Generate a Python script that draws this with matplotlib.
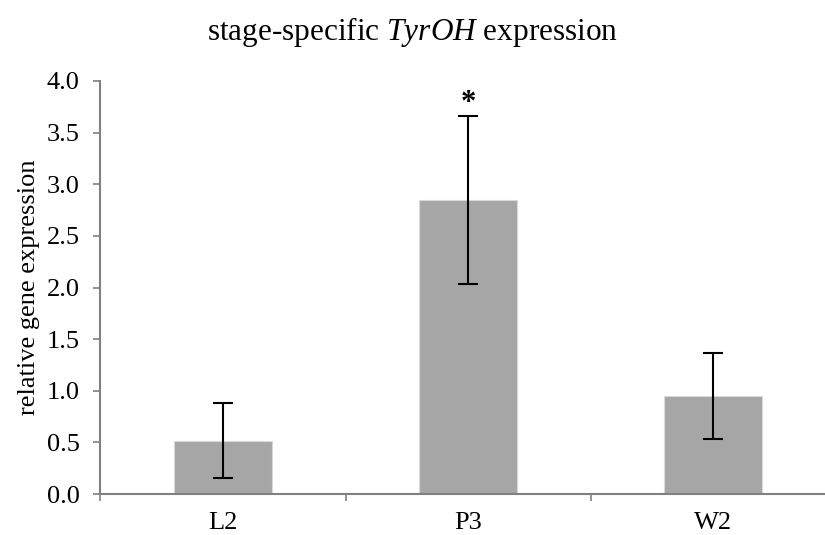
import matplotlib.pyplot as plt
import numpy as np

stages = ["L2", "P3", "W2"]
expression = [0.515, 2.845, 0.947]
sem = [0.362, 0.815, 0.418]
significant = [False, True, False]

plt.rcParams["font.family"] = ["Liberation Serif", "DejaVu Serif"]
plt.rcParams["mathtext.fontset"] = "custom"
plt.rcParams["mathtext.rm"] = "Liberation Serif"
plt.rcParams["mathtext.it"] = "Liberation Serif:italic"

fig = plt.figure(figsize=(8.25, 5.35), dpi=100)
ax = fig.add_axes([0.1218, 0.0766, 0.891, 0.772])

x = np.arange(len(stages))
ax.bar(x, expression, width=0.4, color="#a6a6a6", edgecolor="#d9d9d9", linewidth=0.8, zorder=2)
ax.errorbar(x, expression, yerr=sem, fmt="none", ecolor="black", elinewidth=1.5,
            capsize=7, capthick=1.5, zorder=3)

for xi, yi, ei, sig in zip(x, expression, sem, significant):
    if sig:
        ax.text(xi, yi + ei + 0.12, "*", ha="center", va="center", fontsize=22, fontweight="bold")

ax.set_xlim(-0.5, 2.5)
ax.set_ylim(0, 4.0)
ax.set_yticks(np.arange(0, 4.01, 0.5))
ax.set_yticklabels([f"{v:.1f}" for v in np.arange(0, 4.01, 0.5)])
ax.set_xticks(x)
ax.set_xticklabels(stages)
ax.set_xticks([-0.5, 0.5, 1.5, 2.5], minor=True)
ax.tick_params(axis="x", which="major", length=0, pad=13, labelsize=19)
ax.tick_params(axis="x", which="minor", length=5, width=1.2, color="#808080", direction="out")
ax.tick_params(axis="y", length=5, width=1.2, color="#808080", direction="out", pad=10, labelsize=19)

for side in ["top", "right"]:
    ax.spines[side].set_visible(False)
for side in ["left", "bottom"]:
    ax.spines[side].set_color("#808080")
    ax.spines[side].set_linewidth(1.5)

ax.set_ylabel("relative gene expression", fontsize=19, labelpad=5)
fig.text(0.5, 0.94, r"stage-specific $\mathit{TyrOH}$ expression", ha="center", va="center", fontsize=22.5)

fig.savefig("out.png", dpi=100)
